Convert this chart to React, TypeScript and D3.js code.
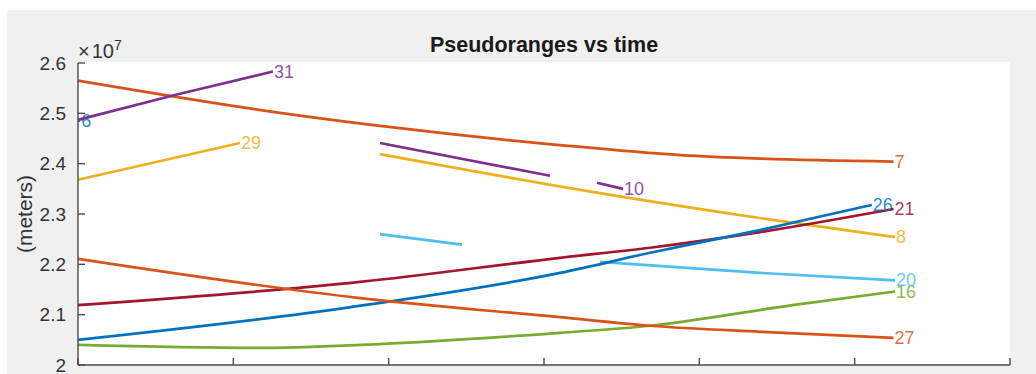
import { useEffect, useRef } from 'react';
import * as d3 from 'd3';

// tick values (x labels are cut off at the bottom of the picture)
const xTicks = [0, 1, 2, 3, 4, 5, 6];
const yTicks = [2.0e7, 2.1e7, 2.2e7, 2.3e7, 2.4e7, 2.5e7, 2.6e7];

// satellite PRNs and MATLAB default colour order
const prns = [6, 7, 8, 10, 16, 20, 21, 26, 27, 29, 31];
const colorOrder = ['#0072BD', '#D95319', '#EDB120', '#7E2F8E', '#77AC30', '#4DBEEE', '#A2142F'];

// time samples / pseudoranges per satellite (null = gap)
const t6 = [0, 0.015];
const r6 = [2.486e7, 2.4855e7];
const t7 = [0, 1.3, 2.0, 3.1, 3.88, 4.39, 5.25];
const r7 = [2.565e7, 2.501e7, 2.473e7, 2.437e7, 2.417e7, 2.41e7, 2.404e7];
const t8 = [1.944, 3.232, 4.39, 5.26];
const r8 = [2.419e7, 2.348e7, 2.292e7, 2.254e7];
const t10 = [1.944, 3.039, 3.2, 3.341, 3.509];
const r10 = [2.441e7, 2.376e7, null, 2.362e7, 2.35e7];
const t16 = [0, 1.17, 1.815, 3.103, 3.683, 4.6, 5.26];
const r16 = [2.04e7, 2.034e7, 2.04e7, 2.064e7, 2.078e7, 2.119e7, 2.146e7];
const t20 = [1.944, 2.472, 3.0, 3.361, 4.39, 5.26];
const r20 = [2.26e7, 2.239e7, null, 2.205e7, 2.183e7, 2.168e7];
const t21 = [0, 1.815, 3.103, 3.683, 4.39, 5.25];
const r21 = [2.119e7, 2.165e7, 2.213e7, 2.233e7, 2.264e7, 2.31e7];
const t26 = [0, 1.757, 3.103, 3.683, 4.39, 5.11];
const r26 = [2.05e7, 2.115e7, 2.183e7, 2.223e7, 2.268e7, 2.318e7];
const t27 = [0, 1.815, 3.103, 3.683, 4.39, 5.25];
const r27 = [2.211e7, 2.133e7, 2.095e7, 2.078e7, 2.066e7, 2.054e7];
const t29 = [0, 1.043];
const r29 = [2.368e7, 2.441e7];
const t31 = [0, 0.63, 1.255];
const r31 = [2.487e7, 2.537e7, 2.583e7];

const times = [t6, t7, t8, t10, t16, t20, t21, t26, t27, t29, t31];
const ranges = [r6, r7, r8, r10, r16, r20, r21, r26, r27, r29, r31];

export default function App() {
  const svgRef = useRef<SVGSVGElement>(null);

  useEffect(() => {
    document.body.style.margin = '0';
    const W = 1036, H = 374;
    const svg = d3.select(svgRef.current);
    svg.selectAll('*').remove();
    svg.attr('width', W).attr('height', H);

    const font = '"Liberation Sans", Arial, Helvetica, sans-serif';
    const axisCol = '#4a4a4a';
    const textCol = '#333';

    // figure background
    svg.append('rect').attr('width', W).attr('height', H).attr('fill', '#fff');
    svg.append('rect').attr('x', 7).attr('y', 10).attr('width', W - 7).attr('height', H - 10).attr('fill', '#f0f0f0');

    const left = 78, right = 1010, top = 63, bottom = 365;
    const x = d3.scaleLinear().domain([0, 6]).range([left, right]);
    const y = d3.scaleLinear().domain([2.0e7, 2.6e7]).range([bottom, top]);

    // axes area
    svg.append('rect')
      .attr('x', left).attr('y', top - 1)
      .attr('width', right - left).attr('height', bottom - top + 1)
      .attr('fill', '#fff');

    // ── lines ──────────────────────────────
    const line = d3.line<[number, number | null]>()
      .defined(d => d[1] !== null)
      .x(d => x(d[0]))
      .y(d => y(d[1] as number))
      .curve(d3.curveMonotoneX);

    const g = svg.append('g');
    prns.forEach((prn, i) => {
      const col = colorOrder[i % colorOrder.length];
      const pts: [number, number | null][] = times[i].map((t, k) => [t, ranges[i][k]]);
      g.append('path')
        .attr('d', line(pts))
        .attr('fill', 'none')
        .attr('stroke', col)
        .attr('stroke-width', 2.7)
        .attr('stroke-linejoin', 'round');
      const last = pts.filter(p => p[1] !== null).pop()!;
      g.append('text')
        .attr('x', x(last[0]) + 1)
        .attr('y', y(last[1] as number))
        .attr('dominant-baseline', 'central')
        .attr('font-family', font)
        .attr('font-size', 18)
        .attr('fill', col)
        .attr('fill-opacity', 0.85)
        .text(String(prn));
    });

    // ── axes ───────────────────────────────
    const ax = svg.append('g').attr('stroke', axisCol).attr('stroke-width', 1.4).attr('fill', 'none');
    ax.append('line').attr('x1', left).attr('x2', left).attr('y1', top).attr('y2', bottom);
    ax.append('line').attr('x1', left).attr('x2', right).attr('y1', bottom).attr('y2', bottom);
    yTicks.forEach(v => {
      ax.append('line').attr('x1', left).attr('x2', left + 7).attr('y1', y(v)).attr('y2', y(v));
    });
    xTicks.forEach(v => {
      ax.append('line').attr('x1', x(v)).attr('x2', x(v)).attr('y1', bottom).attr('y2', bottom - 7);
    });

    const fmt = (v: number) => d3.format('.1~f')(v / 1e7);
    svg.append('g').selectAll('text').data(yTicks).join('text')
      .attr('x', 66).attr('y', d => y(d))
      .attr('text-anchor', 'end').attr('dominant-baseline', 'central')
      .attr('font-family', font).attr('font-size', 19).attr('fill', textCol)
      .text(d => fmt(d));

    // exponent
    const ex = svg.append('text')
      .attr('x', 78).attr('y', 58)
      .attr('font-family', font).attr('font-size', 20).attr('fill', textCol);
    ex.append('tspan').text('×');
    ex.append('tspan').attr('dx', 2).text('10');
    ex.append('tspan').attr('font-size', 14).attr('dy', -8).text('7');

    // title
    svg.append('text')
      .attr('x', (left + right) / 2).attr('y', 52)
      .attr('text-anchor', 'middle')
      .attr('font-family', font).attr('font-size', 21.5).attr('font-weight', 'bold')
      .attr('fill', '#1a1a1a')
      .text('Pseudoranges vs time');

    // y label
    svg.append('text')
      .attr('transform', `translate(24,${(top + bottom) / 2}) rotate(-90)`)
      .attr('text-anchor', 'middle').attr('dominant-baseline', 'central')
      .attr('font-family', font).attr('font-size', 21).attr('fill', textCol)
      .text('(meters)');
  }, []);

  return <svg ref={svgRef} style={{ display: 'block' }} />;
}
